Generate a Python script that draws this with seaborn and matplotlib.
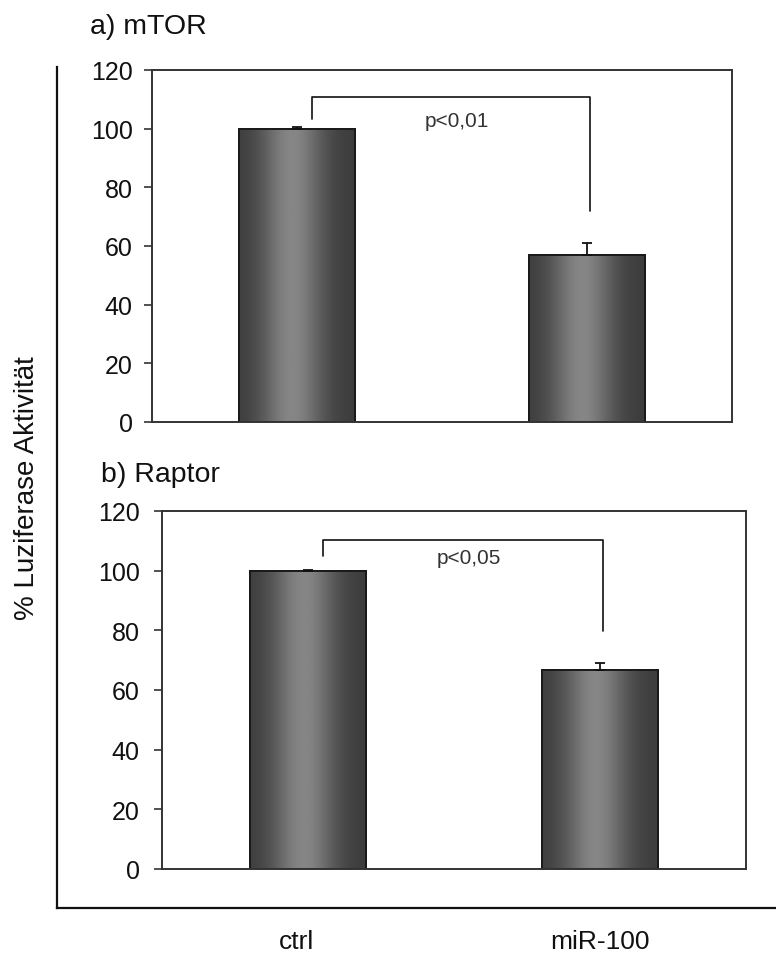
import numpy as np
import pandas as pd
import matplotlib
matplotlib.use("Agg")
import matplotlib.pyplot as plt
from matplotlib.patches import Rectangle
import seaborn as sns

# ---- data -------------------------------------------------------------
categories = ["ctrl", "miR-100"]

mtor_mean = [100.0, 56.8]
mtor_err = [0.4, 4.3]

raptor_mean = [100.0, 66.8]
raptor_err = [0.3, 2.4]

panel_titles = ["a) mTOR", "b) Raptor"]
p_labels = ["p<0,01", "p<0,05"]

# significance brackets: [left leg bottom, top, right leg bottom]
mtor_bracket = [103.3, 110.8, 71.9]
raptor_bracket = [104.9, 110.4, 79.8]

y_ticks = [0, 20, 40, 60, 80, 100, 120]
y_label = "% Luziferase Aktivität"

# ---- style ------------------------------------------------------------
sns.set_theme(style="white")
plt.rcParams["font.family"] = ["Liberation Sans", "DejaVu Sans"]
plt.rcParams["axes.edgecolor"] = "#333333"
plt.rcParams["axes.linewidth"] = 1.4

fig = plt.figure(figsize=(7.76, 9.54), dpi=100)
W, H = 776, 954


def px_axes(left, top, right, bottom, **kw):
    return fig.add_axes([left / W, 1 - bottom / H, (right - left) / W,
                         (bottom - top) / H], **kw)


# outer frame carrying the shared category labels and the y label
ax_o = px_axes(57, 68, 776, 909, zorder=0)
ax_o.set_facecolor("none")
for side in ("top", "right"):
    ax_o.spines[side].set_visible(False)
for side in ("left", "bottom"):
    ax_o.spines[side].set_color("#111111")
    ax_o.spines[side].set_linewidth(1.6)
ax_o.set_xlim(-0.792, 1.581)
ax_o.set_ylim(0, 1)
ax_o.set_xticks(range(len(categories)))
ax_o.set_xticklabels(categories, fontsize=19, color="#111111")
ax_o.set_yticks([])
ax_o.tick_params(axis="x", length=0, pad=15)
ax_o.set_ylabel(y_label, fontsize=20, color="#111111", labelpad=12)

ax_a = px_axes(152, 71, 732, 423, zorder=2)
ax_b = px_axes(162, 512, 746, 870, zorder=2)

# horizontal shading profile of the cylinder-like bars
t = np.linspace(0, 1, 200)
shade = 0.235 + 0.29 * np.exp(-((t - 0.46) / 0.27) ** 2)
shade_img = np.tile(shade, (2, 1))


def draw_panel(ax, means, errs, bracket, title, p_text, title_xy, tick_pad):
    df = pd.DataFrame({"group": categories, "value": means})
    sns.barplot(data=df, x="group", y="value", ax=ax, width=0.4,
                color="#555555", edgecolor="#1a1a1a", linewidth=1.4,
                errorbar=None, saturation=1)
    ax.set_xlim(-0.5, 1.5)
    ax.set_ylim(0, 120)

    centers = []
    for patch in list(ax.patches):
        x0, w, h = patch.get_x(), patch.get_width(), patch.get_height()
        centers.append(x0 + w / 2)
        im = ax.imshow(shade_img, cmap="gray", vmin=0, vmax=1, aspect="auto",
                       extent=[x0, x0 + w, 0, h], interpolation="bicubic",
                       zorder=patch.get_zorder() + 0.1)
        im.set_clip_path(patch)
        ax.add_patch(Rectangle((x0, 0), w, h, fill=False, edgecolor="#1a1a1a",
                               linewidth=1.4, zorder=patch.get_zorder() + 0.2))
    ax.set_xlim(-0.5, 1.5)
    ax.set_ylim(0, 120)

    ax.errorbar(centers, means, yerr=[[0] * len(errs), errs], fmt="none",
                ecolor="#111111", elinewidth=1.3, capsize=3.5, capthick=1.3,
                zorder=6)

    # significance bracket
    xl, xr = centers[0] + 0.05, centers[1] + 0.01
    ax.plot([xl, xl, xr, xr], [bracket[0], bracket[1], bracket[1], bracket[2]],
            color="#111111", linewidth=1.2, zorder=6)
    ax.text((centers[0] + centers[1]) / 2 + 0.05, bracket[0] - 0.5, p_text,
            ha="center", va="center", fontsize=15, color="#333333")

    ax.set_yticks(y_ticks)
    ax.set_yticklabels([str(v) for v in y_ticks], fontsize=18, color="#111111")
    ax.set_xticks([])
    ax.set_xlabel("")
    ax.set_ylabel("")
    ax.tick_params(axis="y", direction="out", length=6, width=1.2,
                   color="#333333", pad=tick_pad, left=True)
    for side in ax.spines.values():
        side.set_visible(True)
        side.set_color("#333333")
        side.set_linewidth(1.4)
    ax.set_facecolor("white")
    ax.text(title_xy[0], title_xy[1], title, transform=ax.transAxes,
            ha="left", va="baseline", fontsize=20.5, color="#111111")


draw_panel(ax_a, mtor_mean, mtor_err, mtor_bracket, panel_titles[0],
           p_labels[0], (-0.107, 1.105), 8)
draw_panel(ax_b, raptor_mean, raptor_err, raptor_bracket, panel_titles[1],
           p_labels[1], (-0.1045, 1.084), 10)

fig.savefig("out.png", dpi=100, facecolor="white")
